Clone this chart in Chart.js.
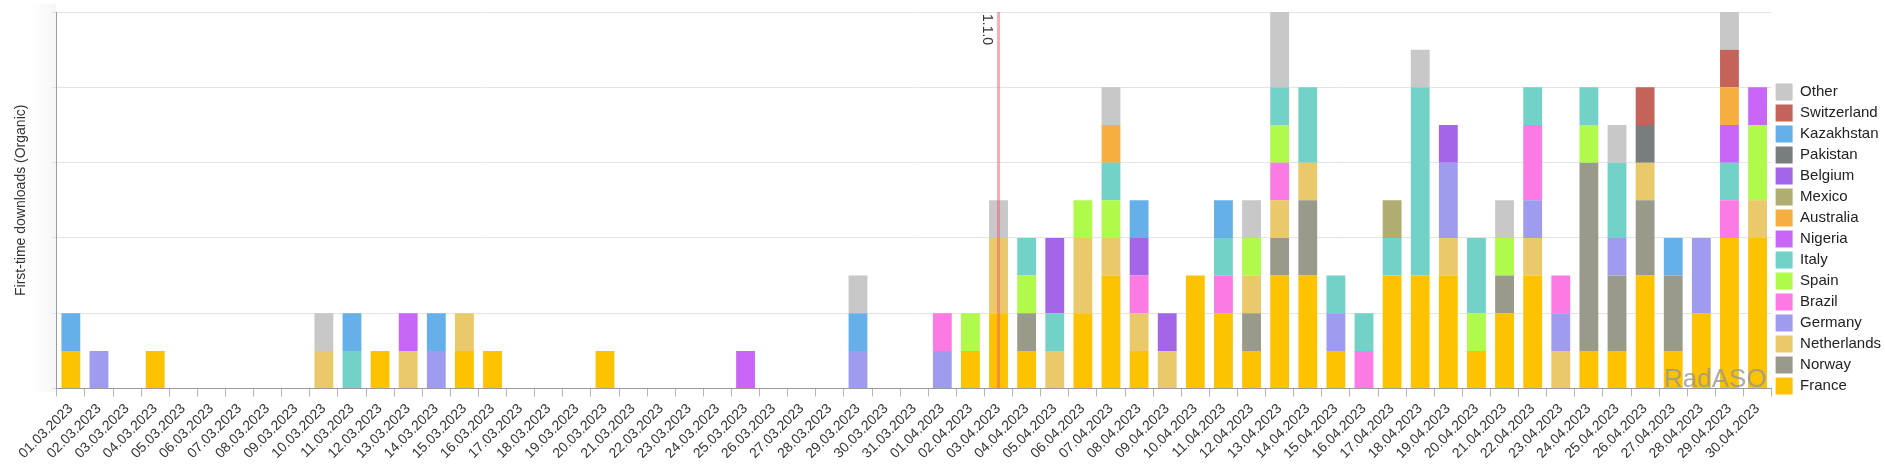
<!DOCTYPE html>
<html>
<head>
<meta charset="utf-8">
<script src="https://cdn.jsdelivr.net/npm/chart.js@4.4.0/dist/chart.umd.min.js"></script>
<style>
  html, body { margin: 0; padding: 0; background: #fff; }
  #wrap { position: relative; width: 1885px; height: 470px; }
  #shade { position: absolute; left: 30px; top: 4px; width: 26px; height: 388px;
           background: linear-gradient(to right, rgba(0,0,0,0), rgba(0,0,0,0.035)); }
  canvas { position: absolute; left: 0; top: 0; }
</style>
</head>
<body>
<div id="wrap"><div id="shade"></div><canvas id="c" width="1885" height="470"></canvas></div>
<script>
const categories = [
  "01.03.2023","02.03.2023","03.03.2023","04.03.2023","05.03.2023","06.03.2023","07.03.2023","08.03.2023","09.03.2023","10.03.2023",
  "11.03.2023","12.03.2023","13.03.2023","14.03.2023","15.03.2023","16.03.2023","17.03.2023","18.03.2023","19.03.2023","20.03.2023",
  "21.03.2023","22.03.2023","23.03.2023","24.03.2023","25.03.2023","26.03.2023","27.03.2023","28.03.2023","29.03.2023","30.03.2023",
  "31.03.2023","01.04.2023","02.04.2023","03.04.2023","04.04.2023","05.04.2023","06.04.2023","07.04.2023","08.04.2023","09.04.2023",
  "10.04.2023","11.04.2023","12.04.2023","13.04.2023","14.04.2023","15.04.2023","16.04.2023","17.04.2023","18.04.2023","19.04.2023",
  "20.04.2023","21.04.2023","22.04.2023","23.04.2023","24.04.2023","25.04.2023","26.04.2023","27.04.2023","28.04.2023","29.04.2023",
  "30.04.2023"
];

// series values, one per day (bottom of stack first)
const france = [
  1,0,0,1,0,0,0,0,0,0,
  0,1,0,0,1,1,0,0,0,1,
  0,0,0,0,0,0,0,0,0,0,
  0,0,1,2,1,0,2,3,1,0,
  3,2,1,3,3,1,0,3,3,3,
  1,2,3,0,1,1,3,1,2,4,
  4];
const norway = [
  0,0,0,0,0,0,0,0,0,0,
  0,0,0,0,0,0,0,0,0,0,
  0,0,0,0,0,0,0,0,0,0,
  0,0,0,0,1,0,0,0,0,0,
  0,0,1,1,2,0,0,0,0,0,
  0,1,0,0,5,2,2,2,0,0,
  0];
const netherlands = [
  0,0,0,0,0,0,0,0,0,1,
  0,0,1,0,1,0,0,0,0,0,
  0,0,0,0,0,0,0,0,0,0,
  0,0,0,2,0,1,2,1,1,1,
  0,0,1,1,1,0,0,0,0,1,
  0,0,1,1,0,0,1,0,0,0,
  1];
const germany = [
  0,1,0,0,0,0,0,0,0,0,
  0,0,0,1,0,0,0,0,0,0,
  0,0,0,0,0,0,0,0,1,0,
  0,1,0,0,0,0,0,0,0,0,
  0,0,0,0,0,1,0,0,0,2,
  0,0,1,1,0,1,0,0,2,0,
  0];
const brazil = [
  0,0,0,0,0,0,0,0,0,0,
  0,0,0,0,0,0,0,0,0,0,
  0,0,0,0,0,0,0,0,0,0,
  0,1,0,0,0,0,0,0,1,0,
  0,1,0,1,0,0,1,0,0,0,
  0,0,2,1,0,0,0,0,0,1,
  0];
const spain = [
  0,0,0,0,0,0,0,0,0,0,
  0,0,0,0,0,0,0,0,0,0,
  0,0,0,0,0,0,0,0,0,0,
  0,0,1,0,1,0,1,1,0,0,
  0,0,1,1,0,0,0,0,0,0,
  1,1,0,0,1,0,0,0,0,0,
  2];
const italy = [
  0,0,0,0,0,0,0,0,0,0,
  1,0,0,0,0,0,0,0,0,0,
  0,0,0,0,0,0,0,0,0,0,
  0,0,0,0,1,1,0,1,0,0,
  0,1,0,1,2,1,1,1,5,0,
  2,0,1,0,1,2,0,0,0,1,
  0];
const nigeria = [
  0,0,0,0,0,0,0,0,0,0,
  0,0,1,0,0,0,0,0,0,0,
  0,0,0,0,1,0,0,0,0,0,
  0,0,0,0,0,0,0,0,0,0,
  0,0,0,0,0,0,0,0,0,0,
  0,0,0,0,0,0,0,0,0,1,
  1];
const australia = [
  0,0,0,0,0,0,0,0,0,0,
  0,0,0,0,0,0,0,0,0,0,
  0,0,0,0,0,0,0,0,0,0,
  0,0,0,0,0,0,0,1,0,0,
  0,0,0,0,0,0,0,0,0,0,
  0,0,0,0,0,0,0,0,0,1,
  0];
const mexico = [
  0,0,0,0,0,0,0,0,0,0,
  0,0,0,0,0,0,0,0,0,0,
  0,0,0,0,0,0,0,0,0,0,
  0,0,0,0,0,0,0,0,0,0,
  0,0,0,0,0,0,0,1,0,0,
  0,0,0,0,0,0,0,0,0,0,
  0];
const belgium = [
  0,0,0,0,0,0,0,0,0,0,
  0,0,0,0,0,0,0,0,0,0,
  0,0,0,0,0,0,0,0,0,0,
  0,0,0,0,0,2,0,0,1,1,
  0,0,0,0,0,0,0,0,0,1,
  0,0,0,0,0,0,0,0,0,0,
  0];
const pakistan = [
  0,0,0,0,0,0,0,0,0,0,
  0,0,0,0,0,0,0,0,0,0,
  0,0,0,0,0,0,0,0,0,0,
  0,0,0,0,0,0,0,0,0,0,
  0,0,0,0,0,0,0,0,0,0,
  0,0,0,0,0,0,1,0,0,0,
  0];
const kazakhstan = [
  1,0,0,0,0,0,0,0,0,0,
  1,0,0,1,0,0,0,0,0,0,
  0,0,0,0,0,0,0,0,1,0,
  0,0,0,0,0,0,0,0,1,0,
  0,1,0,0,0,0,0,0,0,0,
  0,0,0,0,0,0,0,1,0,0,
  0];
const switzerland = [
  0,0,0,0,0,0,0,0,0,0,
  0,0,0,0,0,0,0,0,0,0,
  0,0,0,0,0,0,0,0,0,0,
  0,0,0,0,0,0,0,0,0,0,
  0,0,0,0,0,0,0,0,0,0,
  0,0,0,0,0,0,1,0,0,1,
  0];
const other = [
  0,0,0,0,0,0,0,0,0,1,
  0,0,0,0,0,0,0,0,0,0,
  0,0,0,0,0,0,0,0,1,0,
  0,0,0,1,0,0,0,1,0,0,
  0,0,1,2,0,0,0,0,1,0,
  0,1,0,0,0,1,0,0,0,1,
  0];

const seriesNames = ["France","Norway","Netherlands","Germany","Brazil","Spain","Italy","Nigeria","Australia","Mexico","Belgium","Pakistan","Kazakhstan","Switzerland","Other"];
const seriesValues = [france,norway,netherlands,germany,brazil,spain,italy,nigeria,australia,mexico,belgium,pakistan,kazakhstan,switzerland,other];
const seriesColors = ["#fdc200","#9a9a8b","#e9c969","#9f9bee","#fb7ae4","#b0fa4b","#73d2c8","#c867f7","#f7ae40","#b0ad72","#a565e8","#7a7d7d","#65b0e8","#c4635a","#c8c8c8"];

const yTicks = [0,2,4,6,8,10];
const releaseIndex = 33;
const releaseLabel = "1.1.0";
const watermark = "RadASO";

const FONT = "'Liberation Sans', Arial, sans-serif";

const extras = {
  id: 'extras',
  afterDatasetsDraw(chart) {
    const {ctx, chartArea, scales} = chart;
    const x = scales.x.getPixelForValue(releaseIndex);
    ctx.save();
    ctx.strokeStyle = 'rgba(245,85,105,0.5)';
    ctx.lineWidth = 3;
    ctx.beginPath();
    ctx.moveTo(x, chartArea.top);
    ctx.lineTo(x, chartArea.bottom);
    ctx.stroke();
    ctx.translate(x - 5, chartArea.top + 2);
    ctx.rotate(Math.PI / 2);
    ctx.fillStyle = '#333';
    ctx.font = '14px ' + FONT;
    ctx.textAlign = 'left';
    ctx.textBaseline = 'top';
    ctx.fillText(releaseLabel, 0, 0);
    ctx.restore();

    ctx.save();
    ctx.fillStyle = 'rgba(150,150,150,0.8)';
    ctx.font = '26px ' + FONT;
    ctx.textAlign = 'right';
    ctx.textBaseline = 'alphabetic';
    ctx.fillText(watermark, chartArea.right - 5, chartArea.bottom - 2);
    ctx.restore();
  }
};

new Chart(document.getElementById('c'), {
  type: 'bar',
  data: {
    labels: categories,
    datasets: seriesNames.map((n, i) => ({
      label: n,
      data: seriesValues[i],
      backgroundColor: seriesColors[i],
      borderWidth: 0,
      barPercentage: 0.67,
      categoryPercentage: 1.0
    }))
  },
  options: {
    responsive: false,
    animation: false,
    layout: { padding: { top: 12, left: 9, right: -6, bottom: 4 } },
    plugins: {
      legend: {
        position: 'right',
        align: 'center',
        reverse: true,
        labels: {
          boxWidth: 17, boxHeight: 17, padding: 4,
          color: '#222',
          font: { family: FONT, size: 15 }
        }
      },
      tooltip: { enabled: false }
    },
    scales: {
      x: {
        stacked: true,
        offset: true,
        grid: { display: true, drawOnChartArea: false, drawTicks: true, tickLength: 8, color: '#b4b4b4', offset: true },
        border: { display: true, color: '#9a9a9a' },
        ticks: {
          autoSkip: false, maxRotation: 45, minRotation: 45,
          color: '#333', padding: 4,
          font: { family: FONT, size: 14 }
        }
      },
      y: {
        stacked: true,
        min: 0, max: 10,
        afterBuildTicks(scale) { scale.ticks = yTicks.map(v => ({ value: v })); },
        grid: { color: '#e4e4e4', drawTicks: true, tickLength: 5 },
        border: { display: true, color: '#9a9a9a' },
        ticks: { display: false },
        title: {
          display: true,
          text: 'First-time downloads (Organic)',
          color: '#333',
          font: { family: FONT, size: 14 },
          padding: { top: 4, bottom: 22 }
        }
      }
    }
  },
  plugins: [extras]
});
</script>
</body>
</html>
